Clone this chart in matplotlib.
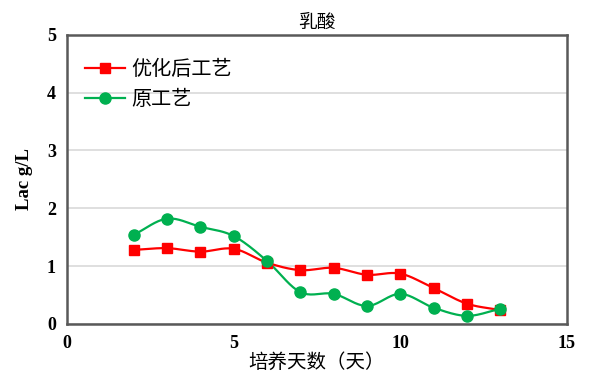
import numpy as np
import matplotlib
matplotlib.use("Agg")
import matplotlib.pyplot as plt

days = [2, 3, 4, 5, 6, 7, 8, 9, 10, 11, 12, 13]
optimized = [1.28, 1.31, 1.25, 1.30, 1.06, 0.93, 0.97, 0.85, 0.87, 0.62, 0.35, 0.24]
original = [1.54, 1.82, 1.68, 1.52, 1.09, 0.55, 0.52, 0.31, 0.52, 0.28, 0.14, 0.26]

CJK = ["Noto Sans CJK SC", "DejaVu Sans"]
SERIF = ["Liberation Serif", "DejaVu Serif"]


def smooth(x, y, n=20):
    """Catmull-Rom curve through the points (like Excel's smoothed line)."""
    x = np.asarray(x, float)
    y = np.asarray(y, float)
    px = np.concatenate([[2 * x[0] - x[1]], x, [2 * x[-1] - x[-2]]])
    py = np.concatenate([[2 * y[0] - y[1]], y, [2 * y[-1] - y[-2]]])
    t = np.linspace(0, 1, n)[:, None]
    out_x, out_y = [], []
    for i in range(1, len(px) - 2):
        for p, out in ((px, out_x), (py, out_y)):
            p0, p1, p2, p3 = p[i - 1], p[i], p[i + 1], p[i + 2]
            seg = 0.5 * (2 * p1 + (-p0 + p2) * t
                         + (2 * p0 - 5 * p1 + 4 * p2 - p3) * t ** 2
                         + (-p0 + 3 * p1 - 3 * p2 + p3) * t ** 3)
            out.append(seg.ravel())
    return np.concatenate(out_x), np.concatenate(out_y)


fig = plt.figure(figsize=(5.93, 3.87), dpi=100)
ax = fig.add_axes([0.113, 0.163, 0.843, 0.747])

red, green = "#ff0000", "#00b050"
for ys, color, marker, ms, label in ((optimized, red, "s", 7, "优化后工艺"),
                                     (original, green, "o", 8, "原工艺")):
    sx, sy = smooth(days, ys)
    ax.plot(sx, sy, color=color, lw=1.6, zorder=3)
    ax.plot(days, ys, linestyle="none", marker=marker, ms=ms, color=color, zorder=4)
    ax.plot([], [], color=color, lw=1.6, marker=marker, ms=ms, label=label)

ax.set_xlim(0, 15)
ax.set_ylim(0, 5)
ax.set_xticks([0, 5, 10, 15])
ax.set_yticks([0, 1, 2, 3, 4, 5])
ax.yaxis.grid(True, color="#d9d9d9", lw=1.2)
ax.set_axisbelow(True)
for s in ax.spines.values():
    s.set_color("#595959")
    s.set_linewidth(1.8)
ax.tick_params(length=0, pad=8)
for lab in ax.get_xticklabels() + ax.get_yticklabels():
    lab.set_family(SERIF)
    lab.set_fontweight("bold")
    lab.set_fontsize(13)

ax.set_title("乳酸", family=CJK, fontsize=13.5, fontweight="medium", pad=5)
ax.set_xlabel("培养天数（天）", family=CJK, fontsize=14, fontweight="medium", labelpad=0)
ax.set_ylabel("Lac g/L", family=SERIF, fontweight="bold", fontsize=13.5, labelpad=10)

leg = ax.legend(loc="upper left", bbox_to_anchor=(0.0, 0.98), frameon=False,
                prop={"family": CJK, "size": 14.5}, handlelength=2.0,
                labelspacing=0.45, handletextpad=0.3)

fig.savefig("out.png", dpi=100)
